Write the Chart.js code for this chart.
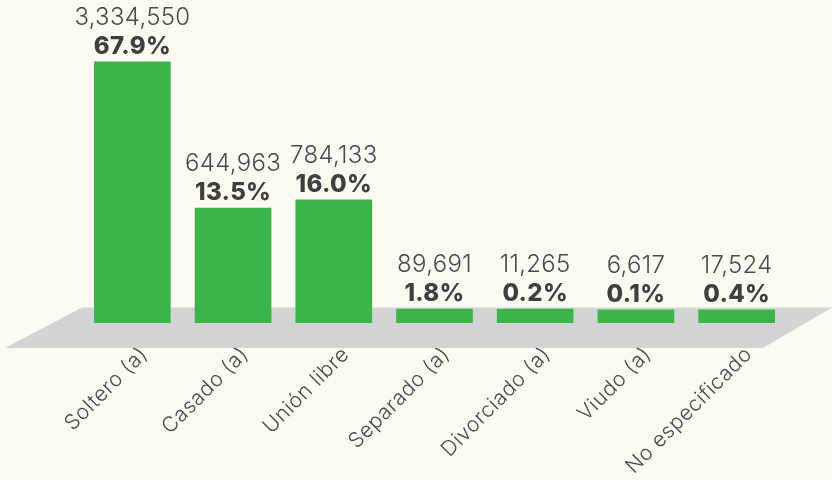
<!DOCTYPE html>
<html><head><meta charset="utf-8">
<script src="https://cdn.jsdelivr.net/npm/chart.js@4"></script>
<style>html,body{margin:0;padding:0;background:#fef9f1;}</style>
</head><body>
<canvas id="c" width="832" height="480" style="width:832px;height:480px;display:block"></canvas>
<script>
const categorias = ['Soltero (a)', 'Casado (a)', 'Unión libre', 'Separado (a)', 'Divorciado (a)', 'Viudo (a)', 'No especificado'];
const poblacion = [3334550, 644963, 784133, 89691, 11265, 6617, 17524];
const porcentajes = [67.9, 13.5, 16.0, 1.8, 0.2, 0.1, 0.4];
// Altura dibujada de cada barra (la infografía original no está a escala)
const alturaBarra = [67.9, 29.9, 32.0, 3.6, 3.6, 3.4, 3.4];

const fmt = n => n.toLocaleString('en-US');

const fondo = {
  id: 'fondo',
  beforeDraw(chart) {
    const {ctx, chartArea, width, height, scales: {y}} = chart;
    ctx.fillStyle = '#fef9f1';
    ctx.fillRect(0, 0, width, height);
    // piso gris en perspectiva
    const base = y.getPixelForValue(0);
    ctx.save();
    ctx.fillStyle = '#d1d3d4';
    ctx.beginPath();
    ctx.moveTo(chartArea.left, base - 15.5);
    ctx.lineTo(width, base - 15.5);
    ctx.lineTo(chartArea.right - 24, base + 25);
    ctx.lineTo(5, base + 25);
    ctx.closePath();
    ctx.fill();
    ctx.restore();
    ctx.letterSpacing = '0.6px';
  },
  afterDraw(chart) {
    chart.ctx.letterSpacing = '0px';
  }
};

const etiquetas = {
  id: 'etiquetas',
  afterDatasetsDraw(chart) {
    const {ctx} = chart;
    const meta = chart.getDatasetMeta(0);
    ctx.save();
    ctx.letterSpacing = '0.3px';
    ctx.textAlign = 'center';
    ctx.textBaseline = 'alphabetic';
    meta.data.forEach((bar, i) => {
      const yb = bar.y - 8;
      ctx.fillStyle = '#3f3f41';
      ctx.font = '800 24px Inter';
      ctx.fillText(porcentajes[i].toFixed(1) + '%', bar.x, yb);
      ctx.fillStyle = '#4a4a4c';
      ctx.font = '300 24px Inter';
      ctx.fillText(fmt(poblacion[i]), bar.x, yb - 29);
    });
    ctx.restore();
  }
};

new Chart(document.getElementById('c'), {
  type: 'bar',
  data: {
    labels: categorias,
    datasets: [{
      data: alturaBarra,
      backgroundColor: '#3bb54a',
      borderWidth: 0,
      barThickness: 76
    }]
  },
  options: {
    responsive: false,
    devicePixelRatio: 1,
    animation: false,
    layout: {padding: {left: 82, right: 45, top: 0, bottom: 7}},
    plugins: {legend: {display: false}, tooltip: {enabled: false}},
    scales: {
      x: {
        grid: {display: false},
        border: {display: false},
        ticks: {
          color: '#4a4a4c',
          font: {family: 'Inter', size: 21, weight: '300'},
          minRotation: 45, maxRotation: 45,
          autoSkip: false,
          padding: 11,
          labelOffset: 12
        },
        afterFit(s) { s.height = 150; }
      },
      y: {display: false, min: 0, max: 84}
    }
  },
  plugins: [fondo, etiquetas]
});
</script>
</body></html>
